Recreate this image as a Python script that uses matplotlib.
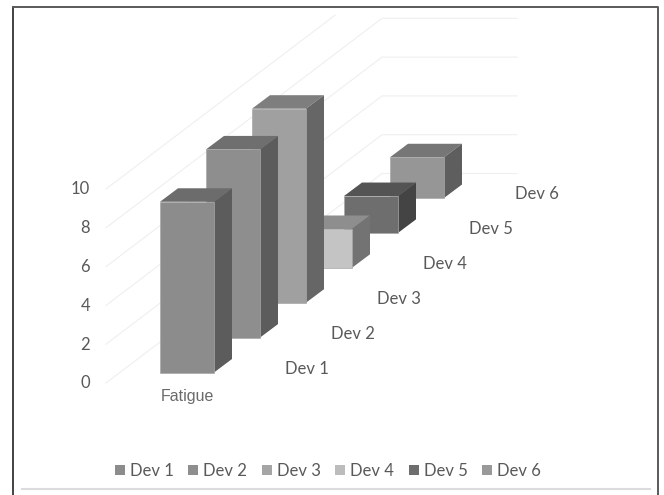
"""3D-look clustered columns, drawn with an oblique projection on 2D axes."""

import matplotlib

matplotlib.use("Agg")
import matplotlib.pyplot as plt
from matplotlib.patches import Polygon, Rectangle

series = ["Dev 1", "Dev 2", "Dev 3", "Dev 4", "Dev 5", "Dev 6"]
values = [8.8, 9.7, 10.0, 2.0, 1.9, 2.1]
category = "Fatigue"
y_ticks = [0, 2, 4, 6, 8, 10]

front_colors = ["#8c8c8c", "#8e8e8e", "#a0a0a0", "#c4c4c4", "#6e6e6e", "#969696"]
top_colors = ["#6c6c6c", "#6f6f6f", "#7e7e7e", "#8e8e8e", "#545454", "#767676"]
side_colors = ["#5c5c5c", "#5c5c5c", "#666666", "#737373", "#444444", "#5e5e5e"]
legend_colors = ["#8c8c8c", "#8e8e8e", "#a5a5a5", "#bcbcbc", "#6e6e6e", "#999999"]

# oblique projection, in pixels
BAR_W = 54
STEP_X, STEP_Y = 46, 34.9
DEPTH_X, DEPTH_Y = 18, 13.5
X0, Y0 = 160, 372.5
UNIT = 19.4
GRID_X, GRID_Y = 106, 383
BACK_X, BACK_Y = 382, 173.5
WALL_END = 517
TOP_CLIP = 15
TEXT = "#595959"
FONT = "Lato"

fig = plt.figure(figsize=(6.64, 4.95), dpi=100)
ax = fig.add_axes([0, 0, 1, 1])
ax.set_xlim(0, 664)
ax.set_ylim(495, 0)
ax.axis("off")

# frame and rule at the bottom
ax.plot([13, 13], [495, 7], color="#222222", lw=1.2, zorder=1)
ax.plot([13, 657.5, 657.5], [7, 7, 495], color="#5a5a5a", lw=1.4, zorder=1)
ax.plot([22, 650], [489, 489], color="#dcdcdc", lw=1.5, zorder=1)

# grid lines: floor/side part, then along the back wall
for tick in y_ticks:
    lift = tick * UNIT
    y_front = GRID_Y - lift
    y_back = BACK_Y - lift
    if y_back >= TOP_CLIP:
        ax.plot([GRID_X, BACK_X, WALL_END], [y_front, y_back, y_back], color="#efefef", lw=0.8, zorder=2)
    else:
        frac = (y_front - TOP_CLIP) / (y_front - y_back)
        ax.plot([GRID_X, GRID_X + frac * (BACK_X - GRID_X)], [y_front, TOP_CLIP], color="#efefef", lw=0.8, zorder=2)
    ax.text(90, y_front + 0.5, str(tick), ha="right", va="center", fontsize=12, color=TEXT, family=FONT)

# columns, back to front
for idx in reversed(range(len(series))):
    left = X0 + idx * STEP_X
    base = Y0 - idx * STEP_Y
    top = base - values[idx] * UNIT
    right = left + BAR_W
    z = 10 - idx
    ax.add_patch(Polygon([(left, top), (right, top), (right + DEPTH_X, top - DEPTH_Y), (left + DEPTH_X, top - DEPTH_Y)],
                         fc=top_colors[idx], ec="none", zorder=z))
    ax.add_patch(Polygon([(right, top), (right + DEPTH_X, top - DEPTH_Y), (right + DEPTH_X, base - DEPTH_Y), (right, base)],
                         fc=side_colors[idx], ec="none", zorder=z))
    ax.add_patch(Rectangle((left, top), BAR_W, base - top, fc=front_colors[idx], ec="#a8a8a8", lw=0.5, zorder=z))
    ax.text(right + 93, base - 4, series[idx], ha="center", va="center", fontsize=12,
            color=TEXT, family=FONT, zorder=20)

ax.text(187, 396, category, ha="center", va="center", fontsize=11.5, color="#6a6a6a", family="Liberation Sans")

# legend
legend_x = [115, 188, 262, 335, 409, 482]
for idx, name in enumerate(series):
    ax.add_patch(Rectangle((legend_x[idx], 465), 10, 10, fc=legend_colors[idx], ec="none"))
    ax.text(legend_x[idx] + 15, 470.5, name, ha="left", va="center", fontsize=12, color=TEXT, family=FONT)

fig.savefig("out.png", dpi=100)
